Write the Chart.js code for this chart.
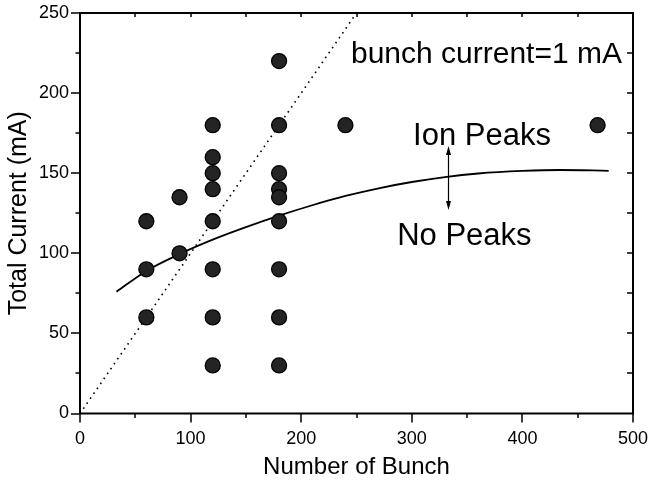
<!DOCTYPE html>
<html>
<head>
<meta charset="utf-8">
<script src="https://cdn.jsdelivr.net/npm/chart.js@4/dist/chart.umd.min.js"></script>
<style>
  html, body { margin: 0; padding: 0; background: #fff; }
  #wrap { width: 651px; height: 482px; position: relative; }
</style>
</head>
<body>
<div id="wrap"><canvas id="c" width="651" height="482"></canvas></div>
<script>
// ---- data ----
const bunchX   = [60, 60, 60, 90, 90, 120, 120, 120, 120, 120, 120, 120, 120, 180, 180, 180, 180, 180, 180, 180, 180, 180, 240, 468];
const currentY = [120, 90, 60, 135, 100, 180, 160, 150, 140, 120, 90, 60, 30, 220, 180, 150, 140, 135, 120, 90, 60, 30, 180, 180];

const boundaryX = [33, 60, 90, 120, 150, 180, 210, 240, 270, 300, 330, 360, 400, 434, 478];
const boundaryY = [76, 89, 99.5, 108.5, 116.3, 123.5, 130, 135.8, 140.6, 144.5, 147.6, 149.8, 151.4, 152, 151.5];

const refX = [3, 250];   // bunch current = 1 mA line
const refY = [3, 250];

const xTicks = [0, 100, 200, 300, 400, 500];
const yTicks = [0, 50, 100, 150, 200, 250];

const labels = {
  title: 'bunch current=1 mA',
  above: 'Ion Peaks',
  below: 'No Peaks',
  xTitle: 'Number of Bunch',
  yTitle: 'Total Current (mA)'
};

// annotation placement (data coordinates)
const annot = {
  titleAt: [367.5, 218.6],
  aboveAt: [363.5, 167.6],
  belowAt: [347.5, 105],
  arrowX: 332.5, arrowTop: 167, arrowBottom: 127
};

const FONT = '"Liberation Sans", Arial, sans-serif';

const toPts = (xs, ys) => xs.map((x, i) => ({ x: x, y: ys[i] }));

const framePlugin = {
  id: 'frame',
  afterDraw(chart) {
    const { ctx, chartArea: a, scales } = chart;
    const xs = scales.x, ys = scales.y;
    ctx.save();
    ctx.strokeStyle = '#000';
    ctx.fillStyle = '#000';

    // ticks
    ctx.lineWidth = 1.5;
    ctx.beginPath();
    for (let v = 0; v <= 500; v += 50) {
      const px = Math.round(xs.getPixelForValue(v));
      const len = (v % 100 === 0) ? 9 : 4.5;
      ctx.moveTo(px, a.bottom); ctx.lineTo(px, a.bottom + len);
      if (v > 0 && v < 500) { ctx.moveTo(px, a.top); ctx.lineTo(px, a.top + 4); }
    }
    for (let v = 0; v <= 250; v += 25) {
      const py = Math.round(ys.getPixelForValue(v));
      const len = (v % 50 === 0) ? 9 : 4.5;
      ctx.moveTo(a.left, py); ctx.lineTo(a.left - len, py);
      if (v > 0 && v < 250) { ctx.moveTo(a.right, py); ctx.lineTo(a.right - 6, py); }
    }
    ctx.stroke();

    // frame
    ctx.lineWidth = 2;
    ctx.beginPath();
    ctx.rect(a.left, a.top, a.right - a.left, a.bottom - a.top);
    ctx.stroke();

    // annotation texts
    ctx.textBaseline = 'alphabetic';
    ctx.textAlign = 'center';
    ctx.font = '30px ' + FONT;
    ctx.fillText(labels.title, xs.getPixelForValue(annot.titleAt[0]), ys.getPixelForValue(annot.titleAt[1]));
    ctx.font = '31px ' + FONT;
    ctx.fillText(labels.above, xs.getPixelForValue(annot.aboveAt[0]), ys.getPixelForValue(annot.aboveAt[1]));
    ctx.fillText(labels.below, xs.getPixelForValue(annot.belowAt[0]), ys.getPixelForValue(annot.belowAt[1]));

    // arrows
    const ax = Math.round(xs.getPixelForValue(annot.arrowX)) + 0.5;
    const at = ys.getPixelForValue(annot.arrowTop);
    const ab = ys.getPixelForValue(annot.arrowBottom);
    ctx.lineWidth = 1.2;
    ctx.beginPath();
    ctx.moveTo(ax, at + 6); ctx.lineTo(ax, ab - 6);
    ctx.stroke();
    ctx.beginPath();
    ctx.moveTo(ax, at); ctx.lineTo(ax - 2.5, at + 9); ctx.lineTo(ax + 2.5, at + 9); ctx.closePath();
    ctx.moveTo(ax, ab); ctx.lineTo(ax - 2.5, ab - 9); ctx.lineTo(ax + 2.5, ab - 9); ctx.closePath();
    ctx.fill();
    ctx.restore();
  }
};

new Chart(document.getElementById('c'), {
  type: 'scatter',
  data: {
    datasets: [
      {
        label: 'ref',
        type: 'line',
        data: toPts(refX, refY),
        borderColor: '#000',
        borderWidth: 1.6,
        borderDash: [1.6, 4.4],
        pointRadius: 0,
        fill: false,
        order: 3
      },
      {
        label: 'boundary',
        type: 'line',
        data: toPts(boundaryX, boundaryY),
        borderColor: '#000',
        borderWidth: 1.8,
        pointRadius: 0,
        cubicInterpolationMode: 'monotone',
        fill: false,
        order: 2
      },
      {
        label: 'measured',
        data: toPts(bunchX, currentY),
        pointRadius: 7.5,
        pointBackgroundColor: '#242424',
        pointBorderColor: '#000',
        pointBorderWidth: 1.3,
        order: 1
      }
    ]
  },
  options: {
    responsive: false,
    animation: false,
    devicePixelRatio: 1,
    layout: { padding: { left: 0, right: 18, top: 13, bottom: 0 } },
    plugins: { legend: { display: false }, tooltip: { enabled: false } },
    scales: {
      x: {
        type: 'linear', min: 0, max: 500,
        afterFit(s) { s.height = 68.5; s.paddingLeft = 0; s.paddingRight = 0; },
        afterBuildTicks(s) { s.ticks = xTicks.map(v => ({ value: v })); },
        grid: { display: false, drawTicks: false },
        border: { display: false },
        ticks: { color: '#000', font: { family: FONT, size: 18 }, padding: 15, maxRotation: 0 },
        title: { display: true, text: labels.xTitle, color: '#000', font: { family: FONT, size: 24 }, padding: { top: 0, bottom: 0 } }
      },
      y: {
        type: 'linear', min: 0, max: 250,
        afterFit(s) { s.width = 80; s.paddingTop = 0; s.paddingBottom = 0; },
        afterBuildTicks(s) { s.ticks = yTicks.map(v => ({ value: v })); },
        grid: { display: false, drawTicks: false },
        border: { display: false },
        ticks: { color: '#000', font: { family: FONT, size: 18 }, padding: 11 },
        title: { display: true, text: labels.yTitle, color: '#000', font: { family: FONT, size: 25 }, padding: { top: 4, bottom: 0 } }
      }
    }
  },
  plugins: [framePlugin]
});
</script>
</body>
</html>
